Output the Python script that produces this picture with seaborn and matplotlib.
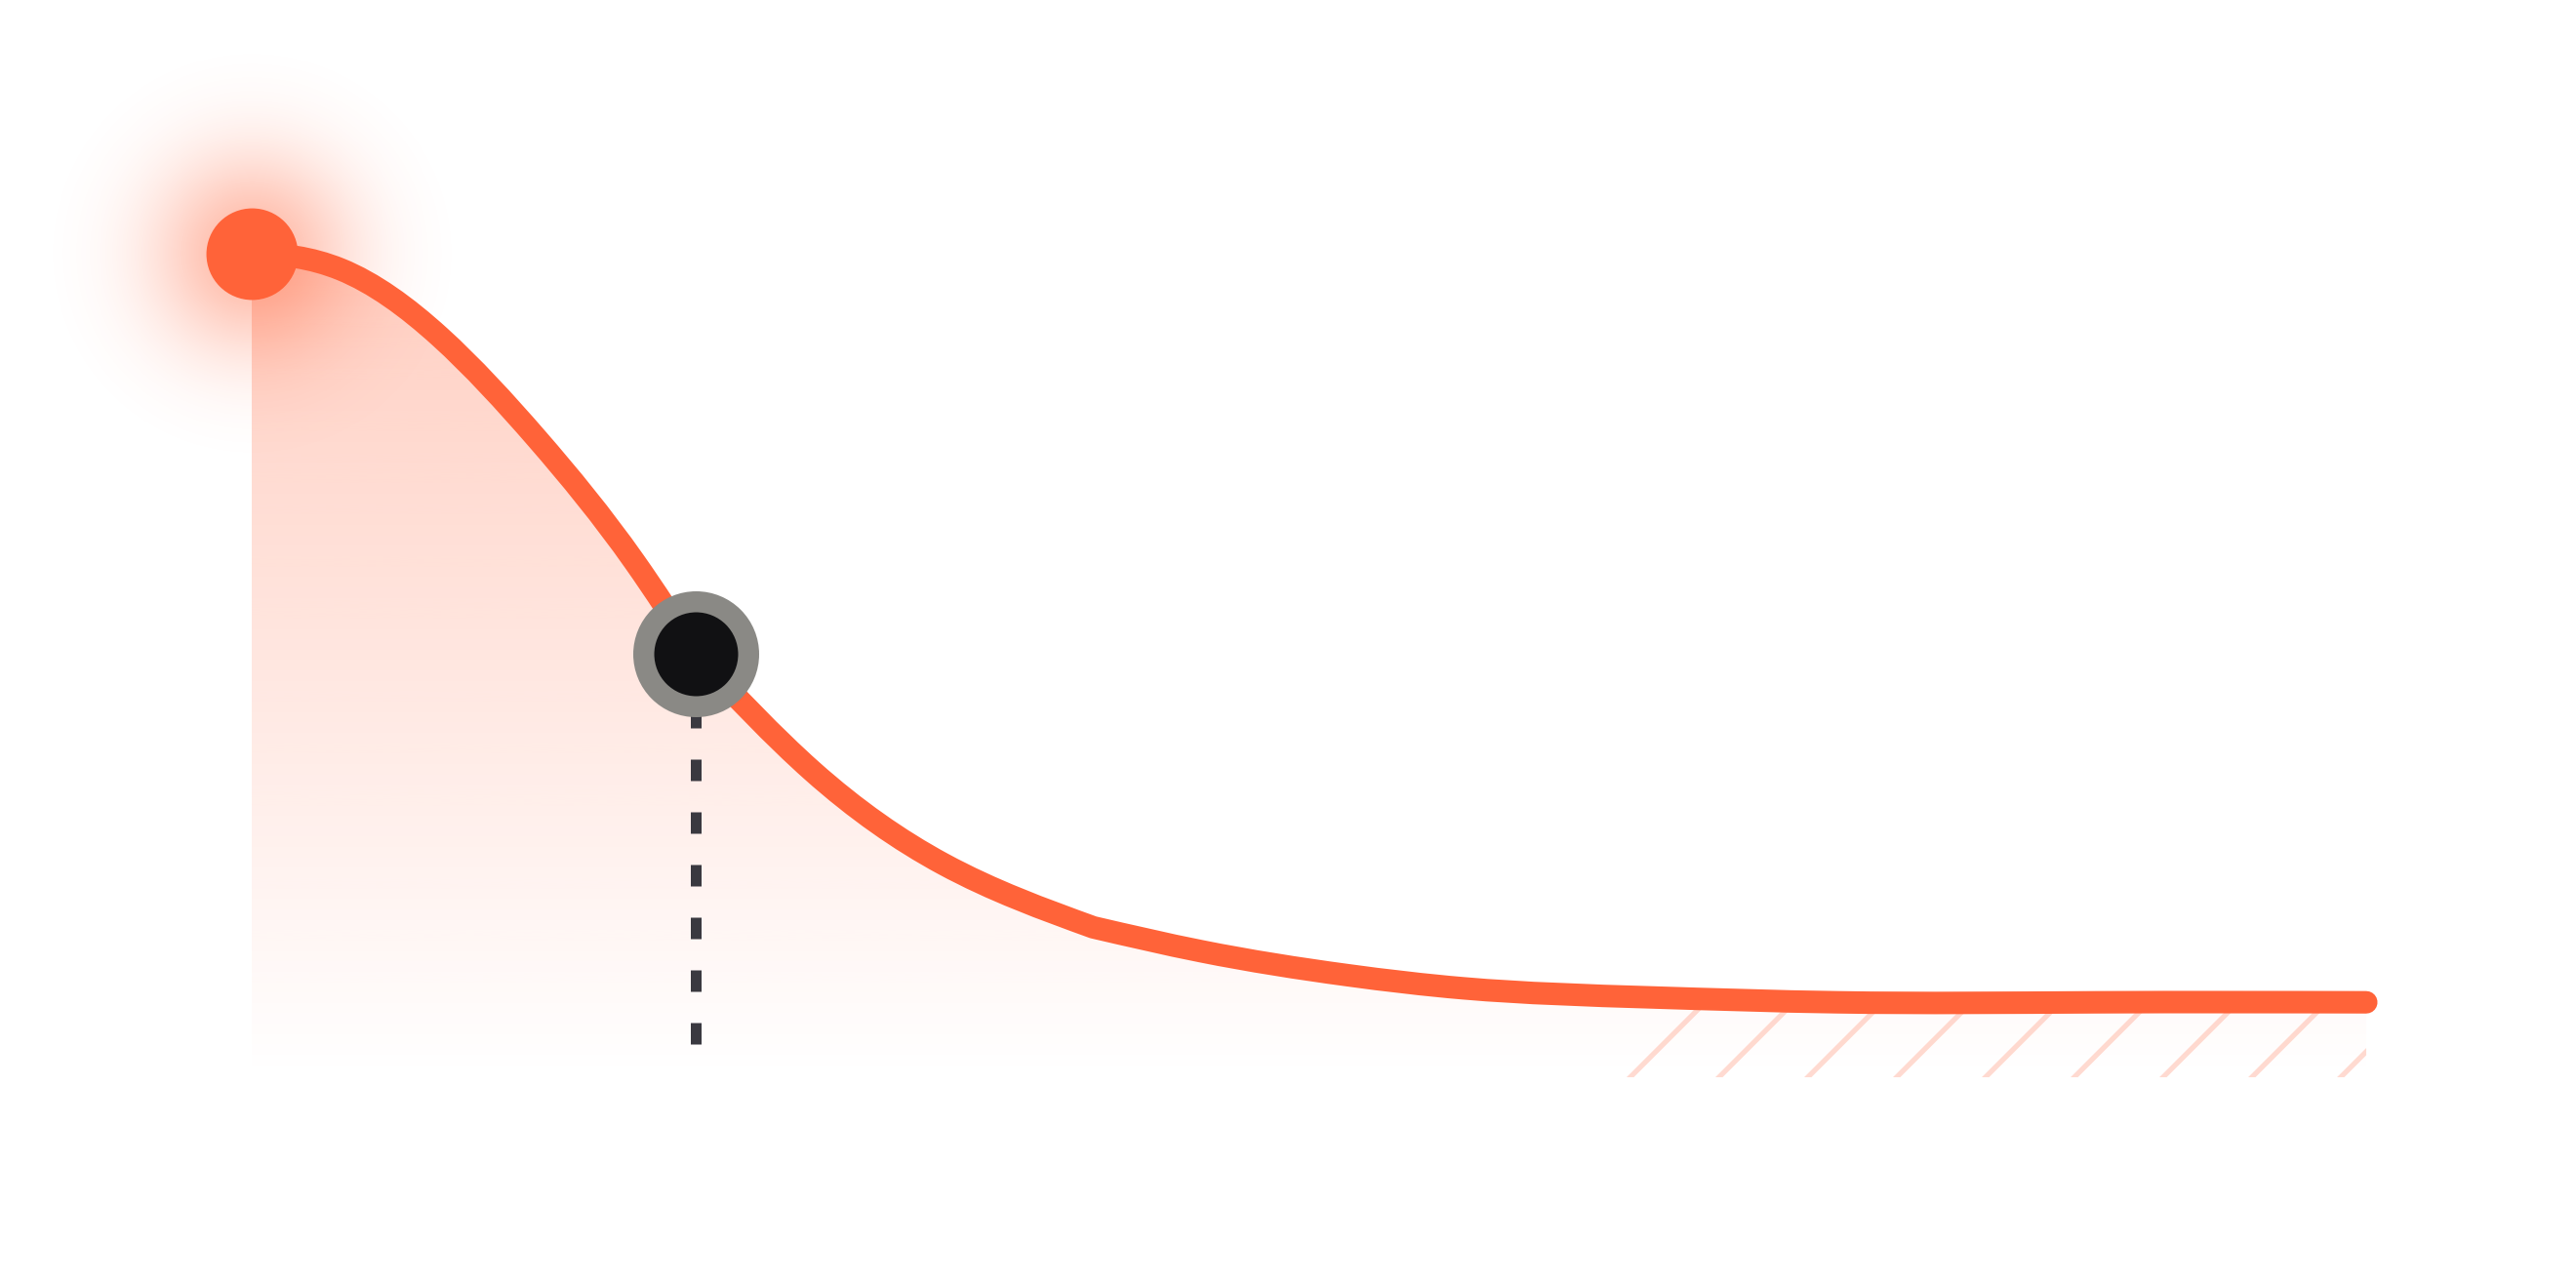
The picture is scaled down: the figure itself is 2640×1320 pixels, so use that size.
import numpy as np
import matplotlib
matplotlib.use('Agg')
import matplotlib.pyplot as plt
import matplotlib.colors as mcolors
from matplotlib.path import Path
from matplotlib.patches import PathPatch
from matplotlib.collections import LineCollection
import seaborn as sns

# curve values (x: 0-100, y: 0-100)
x_vals = [0.0, 4.2, 8.9, 13.5, 18.1, 21.0, 26.5, 32.7, 39.8, 44.9, 51.8, 57.3, 66.1, 75.0, 87.3, 100.0]
y_vals = [100.0, 98.1, 89.9, 77.5, 62.6, 51.4, 37.2, 25.9, 18.2, 15.3, 12.4, 10.8, 9.7, 9.1, 9.1, 9.1]
highlight_idx = 5      # point with the dark marker
bend_idx = 8           # the curve bends slightly here
hatch_start = 64.8     # first hatch stroke (x at baseline)
hatch_step = 4.2
dash_floor = 2.0       # where the dotted drop line stops

ORANGE = '#FF6339'
DARK = '#111113'
RING = '#8A8985'
DASH = '#3A3940'
XLIM = (-11.906, 109.92)
YLIM = (-25.59, 130.8)


def spline_segments(xs, ys, start_slope=None):
    # cubic spline through the points, returned as bezier control points
    xs = np.asarray(xs, float)
    ys = np.asarray(ys, float)
    n = len(xs)
    h = np.diff(xs)
    d = np.diff(ys) / h
    A = np.zeros((n, n))
    b = np.zeros(n)
    if start_slope is None:
        A[0, 0] = 1
    else:
        A[0, 0], A[0, 1] = 2 * h[0], h[0]
        b[0] = 6 * (d[0] - start_slope)
    A[-1, -1] = 1
    for i in range(1, n - 1):
        A[i, i - 1], A[i, i], A[i, i + 1] = h[i - 1], 2 * (h[i - 1] + h[i]), h[i]
        b[i] = 6 * (d[i] - d[i - 1])
    M = np.linalg.solve(A, b)
    m = np.zeros(n)
    m[:-1] = d - h * (2 * M[:-1] + M[1:]) / 6
    m[-1] = d[-1] + h[-1] * (M[-2] + 2 * M[-1]) / 6
    verts = []
    for k in range(n - 1):
        t = h[k] / 3
        verts += [(xs[k] + t, ys[k] + m[k] * t), (xs[k + 1] - t, ys[k + 1] - m[k + 1] * t),
                  (xs[k + 1], ys[k + 1])]
    return verts


sns.set_theme(style='white')
plt.rcParams['lines.scale_dashes'] = False

fig = plt.figure(figsize=(13.2, 6.6), dpi=200, facecolor='white')
ax = fig.add_axes([0, 0, 1, 1])
ax.set_xlim(*XLIM)
ax.set_ylim(*YLIM)

x = np.array(x_vals)
y = np.array(y_vals)
hi, bi = highlight_idx, bend_idx

seg_verts = (spline_segments(x[:hi + 1], y[:hi + 1], start_slope=0.0)
             + spline_segments(x[hi:bi + 1], y[hi:bi + 1])
             + spline_segments(x[bi:], y[bi:]))
curve_verts = [(x[0], y[0])] + seg_verts
curve_codes = [Path.MOVETO] + [Path.CURVE4] * len(seg_verts)
line_path = Path(curve_verts, curve_codes)

# closed area under the curve (clip for gradient and hatch)
area_verts = [(x[0], 0)] + curve_verts + [(x[-1], 0), (x[0], 0)]
area_codes = [Path.MOVETO, Path.LINETO] + curve_codes[1:] + [Path.LINETO, Path.CLOSEPOLY]
area_patch = PathPatch(Path(area_verts, area_codes), facecolor='none', edgecolor='none')
ax.add_patch(area_patch)

# vertical gradient fill
grad = np.zeros((256, 1, 4))
grad[..., :3] = mcolors.to_rgb(ORANGE)
grad[:, 0, 3] = np.linspace(0.0, 0.31, 256)
img = ax.imshow(grad, extent=[x[0], x[-1], 0, y.max()], origin='lower',
                aspect='auto', interpolation='bicubic', zorder=1)
img.set_clip_path(area_patch)
ax.set_xlim(*XLIM)
ax.set_ylim(*YLIM)

# pixel size of one data unit
p = ax.transData.transform([(0, 0), (1, 1)])
sx, sy = p[1, 0] - p[0, 0], p[1, 1] - p[0, 1]

# diagonal hatch on the tail
segs = [[(xb, -1), (xb + 25 * sy / sx, 24)]
        for xb in np.arange(hatch_start, x[-1], hatch_step)]
hatch = LineCollection(segs, colors=ORANGE, alpha=0.23, linewidths=1.9, zorder=2)
hatch.set_clip_path(area_patch)
ax.add_collection(hatch)

# soft radial glow around the peak, fading to zero at R
R, sigma = 220.0, 72.0
g = np.linspace(-R, R, 441)
gx, gy = np.meshgrid(g, g)
r2 = gx ** 2 + gy ** 2
glow = np.zeros((441, 441, 4))
glow[..., :3] = mcolors.to_rgb(ORANGE)
glow[..., 3] = 0.46 * np.clip(np.exp(-r2 / (2 * sigma ** 2)) - np.exp(-R ** 2 / (2 * sigma ** 2)), 0, 1)
ax.imshow(glow, extent=[x[0] - R / sx, x[0] + R / sx, y[0] - R / sy, y[0] + R / sy],
          origin='lower', aspect='auto', interpolation='bilinear', zorder=3)

# main line
ax.add_patch(PathPatch(line_path, facecolor='none', edgecolor=ORANGE, linewidth=8.3,
                       capstyle='round', joinstyle='round', zorder=4))

# peak marker
sns.scatterplot(x=[x[0]], y=[y[0]], ax=ax, s=33.8 ** 2, color=ORANGE, linewidth=0,
                zorder=5, legend=False)

# dotted drop line + highlighted point
xh, yh = x[hi], y[hi]
ax.plot([xh, xh], [yh, dash_floor], color=DASH, linewidth=3.96,
        dashes=(7.92, 11.52), dash_capstyle='butt', zorder=5)
sns.scatterplot(x=[xh], y=[yh], ax=ax, s=38.7 ** 2, color=DARK, edgecolor=RING,
                linewidth=7.74, zorder=6, legend=False)

ax.set_xlim(*XLIM)
ax.set_ylim(*YLIM)
ax.axis('off')

fig.savefig('out.png', dpi=200, facecolor='white')
